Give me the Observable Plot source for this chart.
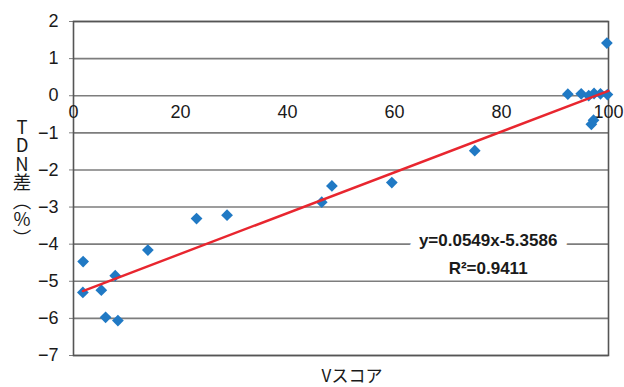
<!DOCTYPE html>
<html>
<head>
<meta charset="utf-8">
<script src="https://cdn.jsdelivr.net/npm/d3@7"></script>
<script src="https://cdn.jsdelivr.net/npm/@observablehq/plot@0.6"></script>
<style>
  html, body { margin: 0; padding: 0; background: #fff; }
</style>
</head>
<body>
<div id="chart"></div>
<script>
// V score (x) and TDN difference % (y)
const vScore = [1.8, 1.75, 5.2, 7.8, 6.0, 8.3, 13.9, 23.0, 28.7, 46.4, 48.3, 59.5, 75.0,
                92.4, 94.9, 96.3, 97.3, 98.5, 99.8, 96.8, 97.2, 99.7];
const tdnDiff = [-4.47, -5.30, -5.24, -4.85, -5.97, -6.06, -4.16, -3.31, -3.22, -2.87, -2.43, -2.34, -1.48,
                 0.04, 0.05, 0.0, 0.06, 0.05, 0.03, -0.77, -0.66, 1.42];
const slope = 0.0549;
const intercept = -5.3586;
const r2 = 0.9411;
const xTicks = [0, 20, 40, 60, 80, 100];
const yTicks = [-7, -6, -5, -4, -3, -2, -1, 0, 1, 2];
const xLabel = "Vスコア";
const yLabel = "TDN差（%）";
const eqLine1 = [{x: 77.5, y: -3.91, text: `y=${slope}x${intercept}`}];
const eqLine2 = [{x: 77.5, y: -4.66, text: `R²=${r2}`}];

const points = vScore.map((v, i) => ({x: v, y: tdnDiff[i]}));
const xMin = d3.min(vScore), xMax = 100;
const fit = [xMin, xMax].map(x => ({x, y: slope * x + intercept}));

const chart = Plot.plot({
  width: 624,
  height: 387,
  marginLeft: 73,
  marginRight: 16,
  marginTop: 21,
  marginBottom: 32,
  style: {fontSize: "17px", fontFamily: "'Liberation Sans', Arial, sans-serif", background: "#fff", color: "#1a1a1a"},
  x: {domain: [0, 100], axis: null},
  y: {domain: [-7, 2], axis: null},
  marks: [
    Plot.gridY(yTicks, {stroke: "#7d7d7d", strokeOpacity: 1, strokeWidth: 1.6}),
    Plot.axisY(yTicks, {tickSize: 4, tickPadding: 11, stroke: "#7d7d7d", label: null, fontSize: 18}),
    Plot.frame({stroke: "#555", strokeWidth: 1.6}),
    Plot.text(xTicks, {x: d => d, y: 0, dy: 17, text: d => String(d), fontSize: 18, fill: "#1a1a1a"}),
    Plot.dot(points, {x: "x", y: "y", symbol: "diamond2", r: 5.3, fill: "#2079c4", stroke: "none"}),
    Plot.line(fit, {x: "x", y: "y", stroke: "#e8262f", strokeWidth: 2.4}),
    Plot.text(eqLine1, {x: "x", y: "y", text: "text", fontSize: 17, fontWeight: "bold", fill: "#1a1a1a", stroke: "#fff", strokeWidth: 20}),
    Plot.text(eqLine2, {x: "x", y: "y", text: "text", fontSize: 17, fontWeight: "bold", fill: "#1a1a1a", stroke: "#fff", strokeWidth: 6})
  ]
});
document.getElementById("chart").appendChild(chart);

const svg = d3.select(chart);
svg.append("text")
  .attr("x", 22)
  .attr("y", 182)
  .attr("text-anchor", "middle")
  .attr("writing-mode", "vertical-rl")
  .style("text-orientation", "upright")
  .attr("font-family", "'Noto Sans CJK JP', sans-serif")
  .attr("font-size", 18.5)
  .attr("fill", "#1a1a1a")
  .text(yLabel);
svg.append("text")
  .attr("x", 352)
  .attr("y", 382)
  .attr("text-anchor", "middle")
  .attr("font-family", "'Noto Sans CJK JP', sans-serif")
  .attr("font-size", 17)
  .attr("fill", "#1a1a1a")
  .text(xLabel);
</script>
</body>
</html>
